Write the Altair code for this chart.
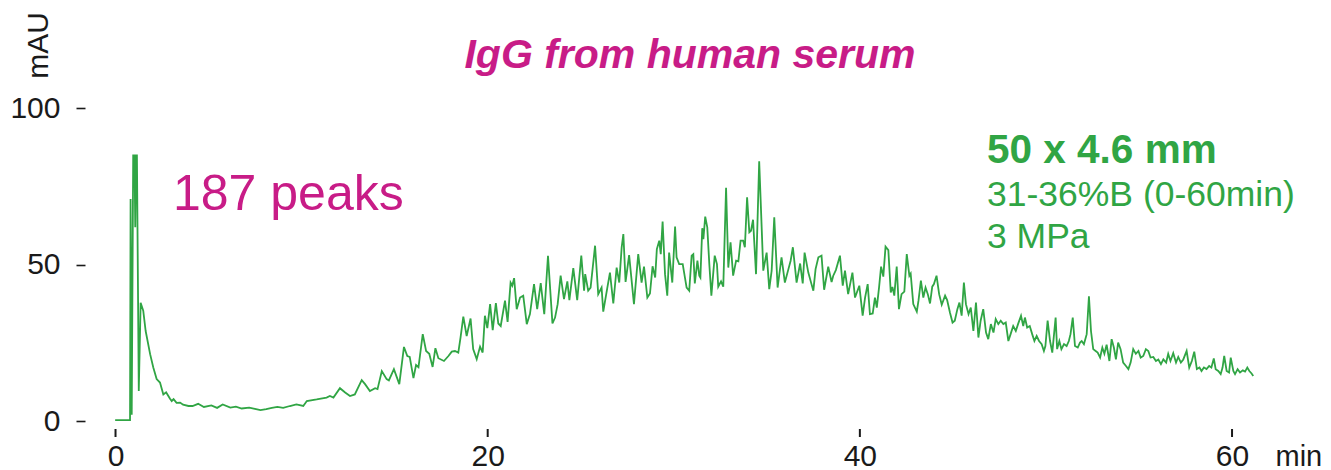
import altair as alt
import pandas as pd

# retention time (min) and absorbance (mAU)
time_min = [
    -0.02, 0.78, 0.81, 0.87, 0.95, 1.02, 1.06, 1.10, 1.15, 1.25, 1.35, 1.49, 1.62, 1.86, 2.03,
    2.21, 2.39, 2.57, 2.72, 2.84, 2.92, 3.02, 3.12, 3.28, 3.47, 3.63, 3.92, 4.14, 4.44, 4.75,
    5.15, 5.46, 5.76, 6.17, 6.47, 6.78, 7.18, 7.49, 7.79, 8.10, 8.40, 8.70, 9.01, 9.37, 9.72,
    10.09, 10.28, 10.81, 11.34, 11.52, 11.71, 12.06, 12.34, 12.60, 12.86, 13.23, 13.41, 13.67, 13.95, 14.08,
    14.31, 14.57, 14.69, 14.96, 15.25, 15.50, 15.68, 15.81, 16.01, 16.15, 16.28, 16.51, 16.69, 16.86, 17.04,
    17.19, 17.35, 17.65, 17.89, 18.07, 18.24, 18.42, 18.54, 18.69, 18.87, 19.08, 19.22, 19.41, 19.59, 19.73,
    19.85, 19.98, 20.13, 20.27, 20.44, 20.57, 20.70, 20.93, 21.07, 21.23, 21.32, 21.42, 21.56, 21.74, 21.91,
    22.10, 22.27, 22.49, 22.66, 22.85, 23.04, 23.24, 23.48, 23.62, 23.76, 23.92, 24.10, 24.28, 24.39, 24.60,
    24.81, 25.03, 25.18, 25.24, 25.40, 25.53, 25.77, 25.94, 26.12, 26.21, 26.43, 26.57, 26.75, 26.93, 27.07,
    27.20, 27.29, 27.41, 27.60, 27.86, 28.09, 28.27, 28.40, 28.58, 28.72, 28.86, 29.00, 29.09, 29.22, 29.30,
    29.40, 29.53, 29.65, 29.75, 29.92, 30.07, 30.15, 30.29, 30.48, 30.60, 30.69, 30.83, 30.96, 31.05, 31.13,
    31.27, 31.37, 31.43, 31.53, 31.59, 31.69, 31.80, 31.91, 32.02, 32.20, 32.32, 32.39, 32.54, 32.66, 32.81,
    32.93, 33.05, 33.19, 33.35, 33.47, 33.59, 33.73, 33.82, 33.94, 34.06, 34.15, 34.26, 34.42, 34.59, 34.81,
    34.99, 35.13, 35.26, 35.40, 35.58, 35.79, 35.97, 36.16, 36.28, 36.40, 36.60, 36.79, 36.93, 37.03, 37.23,
    37.40, 37.50, 37.62, 37.77, 37.94, 38.08, 38.30, 38.48, 38.57, 38.71, 38.93, 39.08, 39.20, 39.37, 39.60,
    39.74, 39.97, 40.15, 40.28, 40.42, 40.54, 40.69, 40.81, 40.91, 41.03, 41.14, 41.26, 41.38, 41.53, 41.66,
    41.75, 41.85, 41.98, 42.10, 42.24, 42.39, 42.52, 42.66, 42.73, 42.87, 43.06, 43.15, 43.28, 43.41, 43.53,
    43.65, 43.77, 43.89, 43.98, 44.12, 44.26, 44.40, 44.58, 44.69, 44.84, 44.98, 45.10, 45.24, 45.35, 45.47,
    45.59, 45.70, 45.84, 45.96, 46.10, 46.24, 46.37, 46.49, 46.63, 46.78, 46.90, 47.04, 47.18, 47.30, 47.44,
    47.57, 47.71, 47.84, 47.98, 48.10, 48.24, 48.38, 48.50, 48.66, 48.78, 48.87, 48.99, 49.13, 49.26, 49.38,
    49.50, 49.63, 49.77, 49.89, 49.97, 50.09, 50.22, 50.34, 50.52, 50.60, 50.72, 50.83, 50.97, 51.11, 51.23,
    51.32, 51.44, 51.56, 51.71, 51.83, 51.92, 52.04, 52.19, 52.31, 52.42, 52.54, 52.67, 52.78, 52.91, 53.03,
    53.14, 53.26, 53.41, 53.53, 53.65, 53.76, 53.88, 54.01, 54.15, 54.30, 54.43, 54.55, 54.69, 54.83, 54.97,
    55.09, 55.23, 55.37, 55.50, 55.62, 55.77, 55.91, 56.04, 56.18, 56.31, 56.46, 56.57, 56.69, 56.84, 56.99,
    57.11, 57.25, 57.38, 57.56, 57.70, 57.84, 57.97, 58.11, 58.25, 58.36, 58.49, 58.63, 58.77, 58.89, 59.02,
    59.12, 59.26, 59.39, 59.49, 59.58, 59.71, 59.84, 59.93, 60.07, 60.16, 60.30, 60.43, 60.58, 60.70, 60.82,
    60.93, 61.05, 61.14,
]
absorbance_mau = [
    0.3, 0.3, 71.0, 2.0, 85.0, 85.0, 62.0, 85.0, 85.0, 9.6, 37.8, 35.3, 28.8, 21.4, 17.1,
    13.4, 12.3, 8.5, 9.2, 8.0, 7.2, 6.4, 7.0, 5.8, 5.9, 5.2, 4.8, 4.8, 5.5, 4.5,
    5.0, 4.2, 5.3, 4.3, 4.6, 4.0, 4.3, 3.9, 3.5, 3.8, 4.2, 4.5, 4.2, 4.8, 5.3,
    4.8, 6.4, 6.9, 7.5, 8.0, 7.5, 10.5, 9.1, 8.0, 8.5, 13.1, 11.8, 9.6, 10.5, 10.2,
    16.0, 13.4, 13.0, 16.6, 11.8, 23.7, 20.8, 20.5, 13.7, 17.9, 17.2, 27.8, 22.4, 21.5, 17.3,
    23.3, 20.1, 19.2, 20.8, 22.2, 22.4, 21.9, 26.7, 33.4, 27.2, 32.8, 23.0, 19.8, 23.8, 21.9,
    33.7, 29.7, 37.4, 29.1, 37.7, 31.2, 30.4, 38.5, 31.7, 44.3, 43.3, 45.7, 35.8, 39.5, 40.1,
    31.0, 34.2, 43.8, 35.8, 44.1, 34.2, 52.9, 31.2, 33.1, 37.4, 46.5, 39.0, 44.7, 38.7, 48.9,
    38.7, 52.9, 41.7, 47.0, 41.7, 42.7, 56.1, 40.6, 42.7, 35.0, 42.7, 47.5, 37.6, 49.1, 44.3,
    55.6, 59.8, 44.5, 53.1, 37.4, 53.4, 44.3, 49.4, 39.5, 40.8, 49.5, 45.9, 55.0, 57.7, 53.4,
    63.8, 47.0, 40.1, 53.9, 44.3, 62.2, 52.4, 50.2, 50.2, 45.9, 42.7, 41.7, 52.9, 53.4, 44.0,
    51.3, 46.5, 45.9, 61.7, 58.2, 65.4, 62.0, 50.2, 40.1, 52.9, 50.2, 43.0, 44.7, 43.0, 74.6,
    49.1, 57.2, 46.5, 51.3, 51.1, 57.7, 57.7, 55.6, 71.6, 60.4, 60.9, 64.4, 47.0, 83.1, 48.1,
    53.9, 42.2, 48.1, 65.2, 42.7, 52.4, 44.3, 48.6, 51.3, 55.6, 44.3, 50.4, 44.0, 53.9, 47.5,
    43.8, 41.7, 48.6, 52.4, 52.9, 42.0, 49.4, 44.5, 46.5, 48.3, 52.9, 43.3, 48.1, 40.6, 47.5,
    39.5, 43.3, 33.7, 39.5, 43.8, 34.2, 34.4, 39.5, 36.3, 42.7, 49.4, 46.2, 55.8, 54.7, 41.1,
    42.9, 40.1, 49.4, 35.8, 40.6, 41.4, 53.4, 46.5, 47.2, 37.4, 35.0, 38.5, 44.9, 39.5, 42.7,
    40.6, 37.6, 43.0, 43.8, 46.5, 40.6, 37.2, 40.1, 38.7, 34.7, 31.5, 32.1, 35.8, 37.9, 33.7,
    44.3, 37.4, 34.2, 36.3, 28.8, 37.9, 26.7, 32.1, 35.8, 28.3, 26.2, 31.0, 28.3, 32.6, 31.0,
    32.1, 31.0, 31.5, 25.6, 27.8, 30.4, 28.8, 31.0, 33.7, 30.4, 33.1, 29.9, 30.4, 27.8, 25.6,
    27.2, 25.6, 24.6, 22.4, 24.0, 32.1, 25.6, 21.9, 33.1, 23.0, 25.6, 23.0, 24.6, 24.0, 25.6,
    27.8, 33.1, 24.0, 23.5, 25.1, 25.6, 24.6, 27.8, 39.9, 28.8, 23.0, 22.4, 21.9, 20.3, 23.5,
    21.5, 24.4, 19.2, 26.2, 23.5, 19.7, 25.1, 23.0, 18.7, 17.6, 16.6, 18.7, 23.0, 21.5, 22.4,
    20.3, 20.8, 23.0, 22.4, 20.3, 20.5, 19.2, 19.7, 18.2, 19.7, 18.7, 21.5, 19.2, 21.7, 18.7,
    20.5, 18.7, 19.7, 22.4, 17.1, 19.2, 22.2, 16.6, 17.1, 16.0, 17.1, 16.6, 17.6, 17.1, 20.0,
    16.6, 16.0, 15.0, 17.1, 20.8, 16.0, 15.5, 20.3, 16.0, 15.0, 16.6, 15.5, 16.2, 15.8, 17.1,
    16.0, 15.2, 14.4,
]

x_ticks = [0, 20, 40, 60]
y_ticks = [0, 50, 100]

title_text = ["IgG from human serum"]
peaks_text = ["187 peaks"]
column_text = ["50 x 4.6 mm"]
gradient_text = ["31-36%B (0-60min)"]
pressure_text = ["3 MPa"]

GREEN = "#30A544"
MAGENTA = "#C81C87"
FONT = "Liberation Sans"
AXIS_COLOR = "#1a1a1a"

df = pd.DataFrame({"t": time_min, "v": absorbance_mau})

x_scale = alt.Scale(domain=[-1.64, 62.04], nice=False, zero=False)
y_scale = alt.Scale(domain=[-1.6, 102.08], nice=False, zero=False)

x_axis = alt.Axis(
    values=x_ticks, format="d", domain=False, grid=False, ticks=False,
    offset=4,
    labelFont=FONT, labelFontSize=30, labelColor=AXIS_COLOR, labelPadding=11,
    labelFlush=False, labelOverlap=False,
    title="min", titleFont=FONT, titleFontSize=29, titleFontWeight="normal",
    titleColor=AXIS_COLOR, titleX=1190, titleY=35, titleAlign="left",
    titleBaseline="alphabetic",
)

y_axis = alt.Axis(
    values=y_ticks, format="d", domain=False, grid=False,
    tickSize=9, tickWidth=1.6, tickColor=AXIS_COLOR,
    labelFont=FONT, labelFontSize=30, labelColor=AXIS_COLOR, labelPadding=16,
    labelOverlap=False,
    title="mAU", titleFont=FONT, titleFontSize=30, titleFontWeight="normal",
    titleColor=AXIS_COLOR, titleAngle=270, titleX=-38, titleY=-57,
    titleAlign="center", titleBaseline="alphabetic",
)

line = alt.Chart(df).mark_line(color=GREEN, strokeWidth=1.8).encode(
    x=alt.X("t:Q", scale=x_scale, axis=x_axis),
    y=alt.Y("v:Q", scale=y_scale, axis=y_axis),
)

# small vertical tick marks under the x axis values
x_tick_marks = alt.Chart(pd.DataFrame({"t": x_ticks})).mark_rule(
    color=AXIS_COLOR, strokeWidth=2
).encode(
    x=alt.X("t:Q", scale=x_scale, axis=x_axis),
    y=alt.value(327),
    y2=alt.value(335),
)


def label(texts, px, py, size, color, weight="normal", style="normal", align="left"):
    return alt.Chart(pd.DataFrame({"s": texts})).mark_text(
        font=FONT, fontSize=size, fontWeight=weight, fontStyle=style,
        color=color, align=align, baseline="alphabetic",
    ).encode(text="s:N", x=alt.value(px), y=alt.value(py))


title = label(title_text, 605, -34, 41, MAGENTA, weight="bold", style="italic", align="center")
peaks = label(peaks_text, 88, 108, 50, MAGENTA)
column = label(column_text, 902, 61, 40.5, GREEN, weight="bold")
gradient = label(gradient_text, 902, 104, 35.5, GREEN)
pressure = label(pressure_text, 902, 146, 35.5, GREEN)

chart = alt.layer(line, x_tick_marks, title, peaks, column, gradient, pressure).properties(
    width=1185,
    height=324,
    padding={"left": 77, "top": 94, "right": 53, "bottom": 44},
    autosize=alt.AutoSizeParams(type="none"),
    background="white",
).configure_view(stroke=None)

chart.save("out.html", embed_options={"renderer": "svg", "actions": False})
